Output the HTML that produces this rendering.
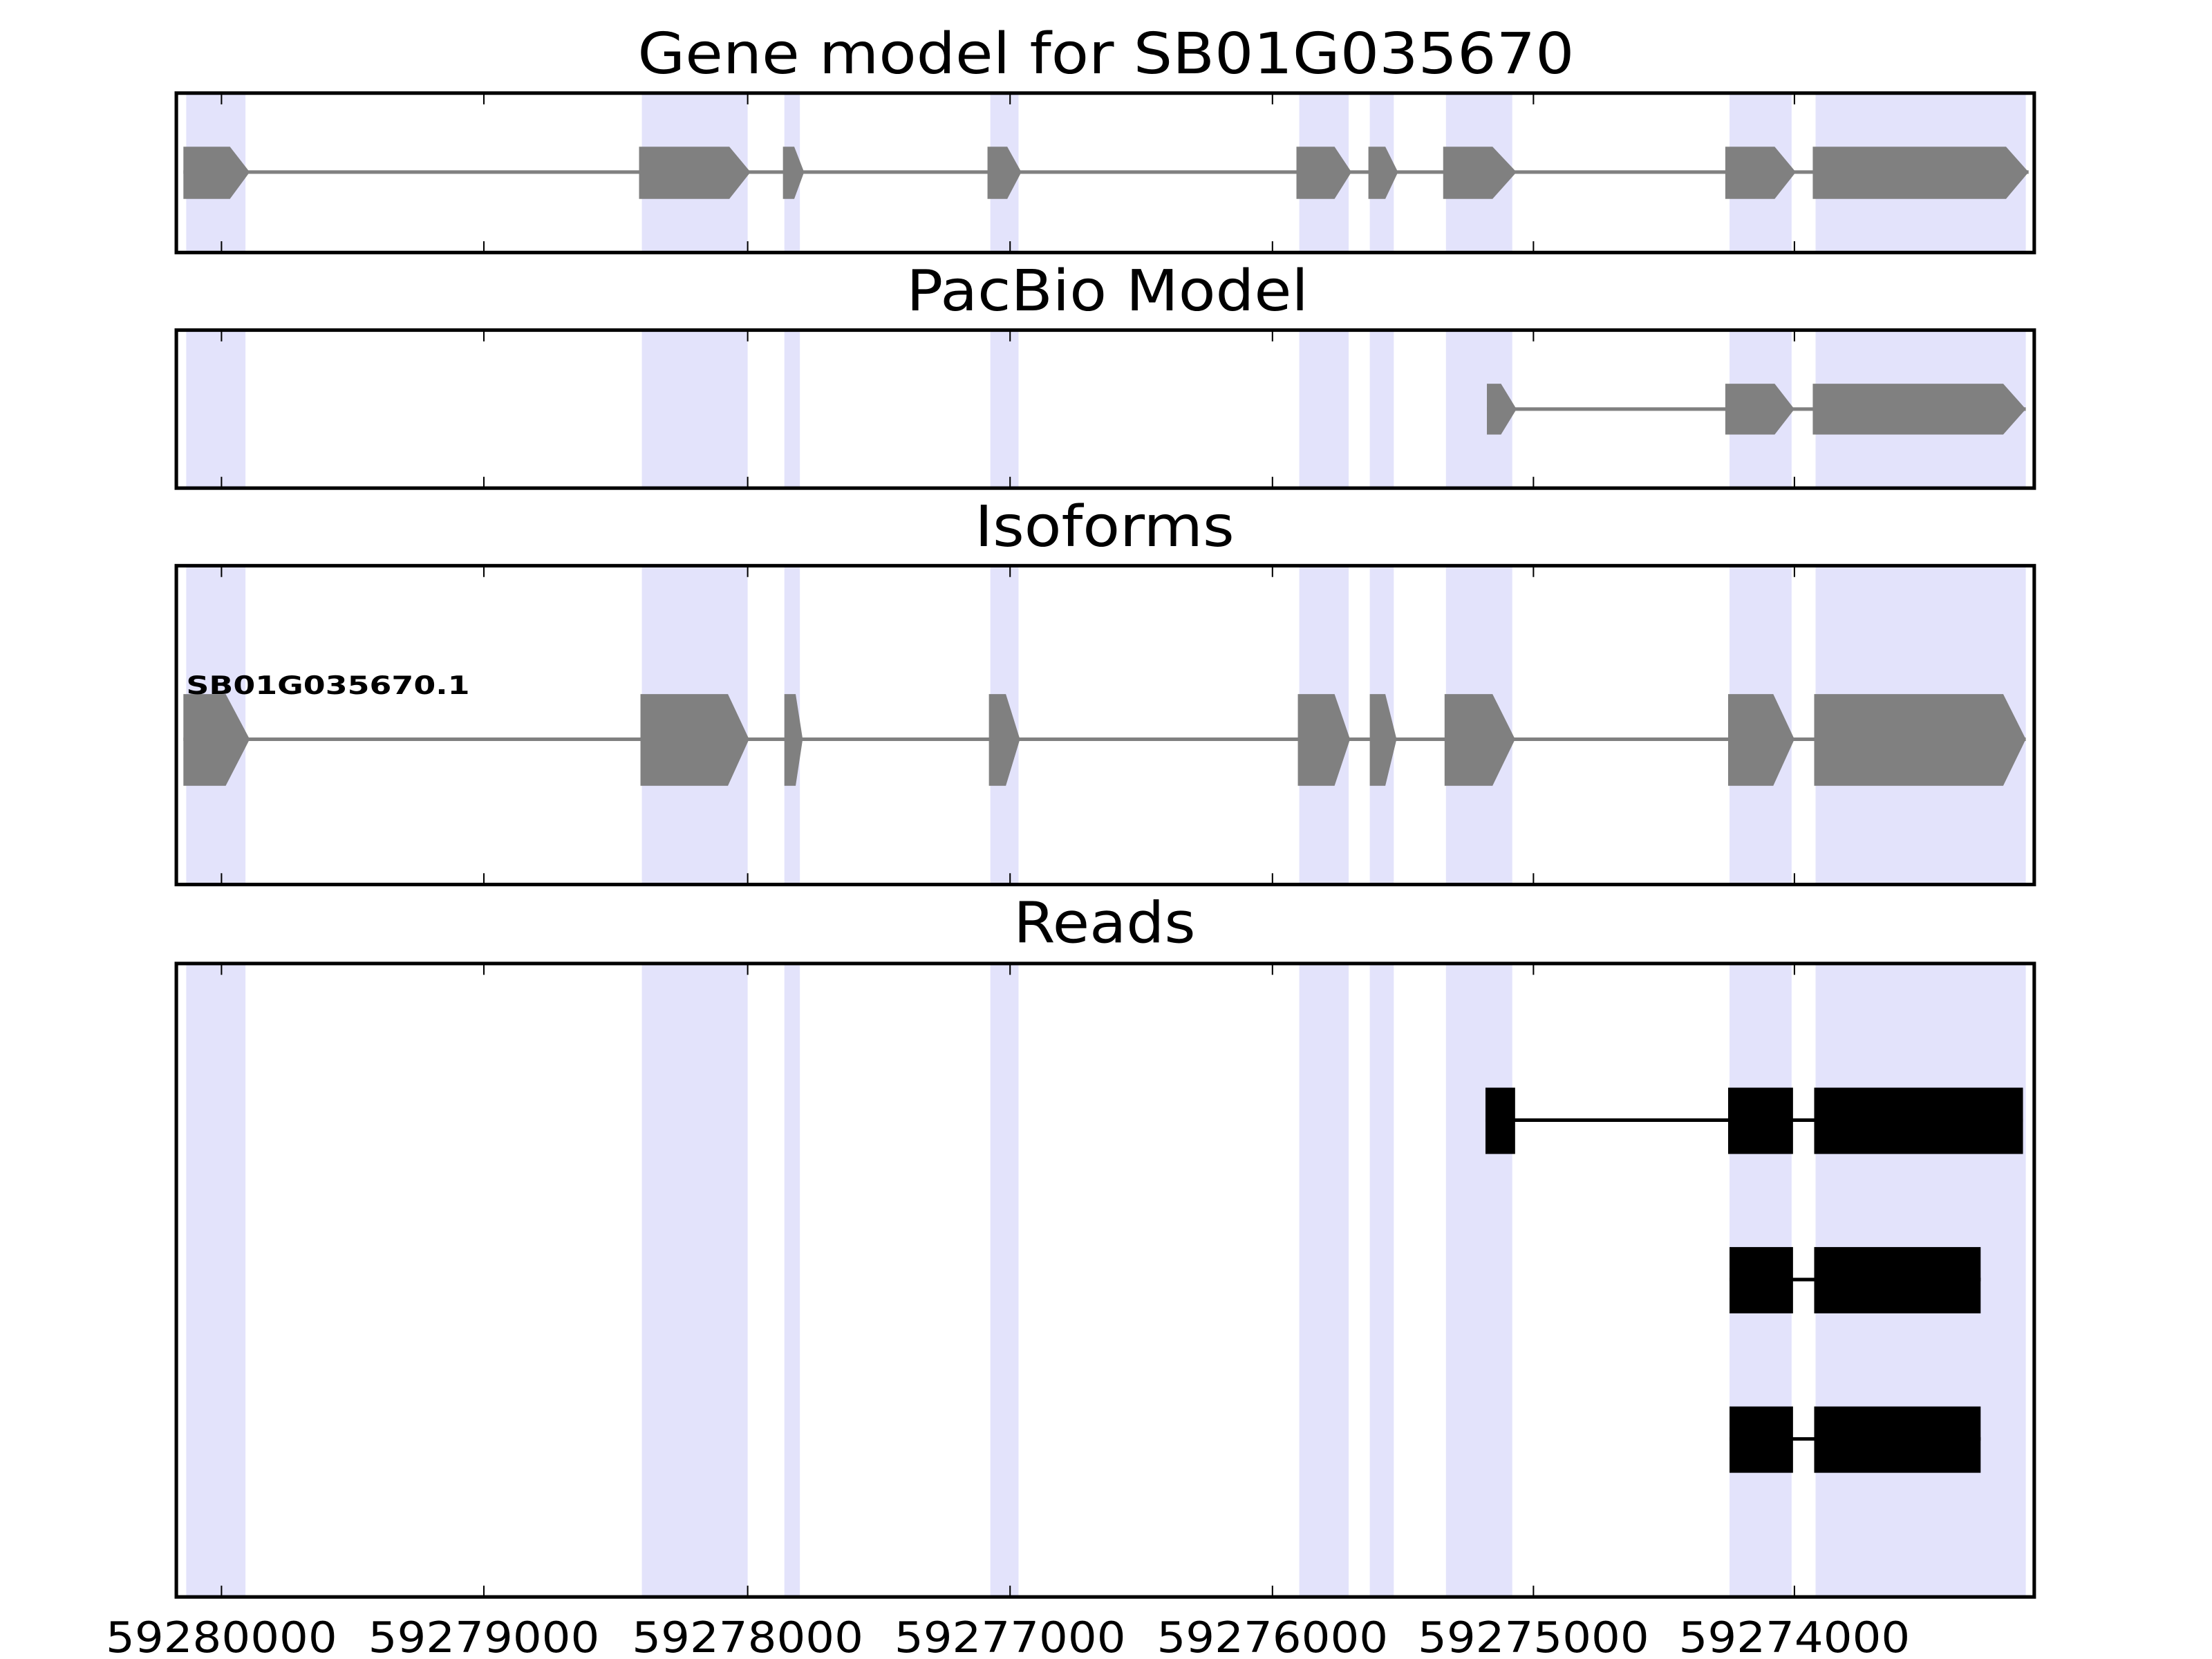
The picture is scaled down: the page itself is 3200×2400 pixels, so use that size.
<!DOCTYPE html>
<html><head><meta charset="utf-8"><style>html,body{margin:0;padding:0;background:#fff}svg{display:block}</style></head>
<body>
<svg xmlns="http://www.w3.org/2000/svg" width="3200" height="2400" viewBox="0 0 1568 1176">
<defs>
<g id="shade" fill="#e3e3fb">
<rect x="132" y="0" width="42" height="1"/>
<rect x="455" y="0" width="75" height="1"/>
<rect x="556" y="0" width="11" height="1"/>
<rect x="702" y="0" width="20" height="1"/>
<rect x="921" y="0" width="35" height="1"/>
<rect x="971" y="0" width="17" height="1"/>
<rect x="1025" y="0" width="47" height="1"/>
<rect x="1226" y="0" width="44" height="1"/>
<rect x="1287" y="0" width="149" height="1"/>
</g>
</defs>
<g font-family="'DejaVu Sans','Liberation Sans',sans-serif" fill="#000">
<text x="784" y="52" font-size="40" text-anchor="middle" textLength="664" lengthAdjust="spacingAndGlyphs">Gene model for SB01G035670</text>
<text x="785" y="220" font-size="40" text-anchor="middle" textLength="285" lengthAdjust="spacingAndGlyphs">PacBio Model</text>
<text x="783" y="387" font-size="40" text-anchor="middle" textLength="184" lengthAdjust="spacingAndGlyphs">Isoforms</text>
<text x="783" y="668" font-size="40" text-anchor="middle" textLength="129" lengthAdjust="spacingAndGlyphs">Reads</text>
</g>

<use href="#shade" transform="translate(0,66) scale(1,113)"/>
<use href="#shade" transform="translate(0,234) scale(1,112)"/>
<use href="#shade" transform="translate(0,401) scale(1,226)"/>
<use href="#shade" transform="translate(0,683) scale(1,449)"/>

<!-- Panel 1 -->
<g fill="#808080">
<line x1="130" y1="122" x2="1438" y2="122" stroke="#808080" stroke-width="2.5"/>
<polygon points="130,104 163,104 177,122 163,141 130,141"/>
<polygon points="453,104 517,104 532,122 517,141 453,141"/>
<polygon points="555,104 563,104 570,122 563,141 555,141"/>
<polygon points="700,104 714,104 724,122 714,141 700,141"/>
<polygon points="919,104 946,104 958,122 946,141 919,141"/>
<polygon points="970,104 982,104 991,122 982,141 970,141"/>
<polygon points="1023,104 1058,104 1075,122 1058,141 1023,141"/>
<polygon points="1223,104 1258,104 1273,122 1258,141 1223,141"/>
<polygon points="1285,104 1422,104 1438,122 1422,141 1285,141"/>
</g>

<!-- Panel 2 -->
<g fill="#808080">
<line x1="1054" y1="290" x2="1436" y2="290" stroke="#808080" stroke-width="2.5"/>
<polygon points="1054,272 1064,272 1075,290 1064,308 1054,308"/>
<polygon points="1223,272 1258,272 1272,290 1258,308 1223,308"/>
<polygon points="1285,272 1420,272 1436,290 1420,308 1285,308"/>
</g>

<!-- Panel 3 -->
<g fill="#808080">
<line x1="130" y1="524" x2="1436" y2="524" stroke="#808080" stroke-width="2.5"/>
<polygon points="130,492 160,492 177,524 160,557 130,557"/>
<polygon points="454,492 516,492 531,524 516,557 454,557"/>
<polygon points="556,492 564,492 569,524 564,557 556,557"/>
<polygon points="701,492 713,492 723,524 713,557 701,557"/>
<polygon points="920,492 946,492 957,524 946,557 920,557"/>
<polygon points="971,492 982,492 990,524 982,557 971,557"/>
<polygon points="1024,492 1058,492 1074,524 1058,557 1024,557"/>
<polygon points="1225,492 1257,492 1272,524 1257,557 1225,557"/>
<polygon points="1286,492 1420,492 1436,524 1420,557 1286,557"/>
</g>
<text x="132" y="492" font-family="'DejaVu Sans','Liberation Sans',sans-serif" font-weight="bold" font-size="18" textLength="201" lengthAdjust="spacingAndGlyphs">SB01G035670.1</text>

<!-- Panel 4 -->
<g fill="#000">
<line x1="1053" y1="794" x2="1434" y2="794" stroke="#000" stroke-width="2.5"/>
<rect x="1053" y="771" width="21" height="47"/>
<rect x="1225" y="771" width="46" height="47"/>
<rect x="1286" y="771" width="148" height="47"/>
<line x1="1226" y1="907" x2="1404" y2="907" stroke="#000" stroke-width="2.5"/>
<rect x="1226" y="884" width="45" height="47"/>
<rect x="1286" y="884" width="118" height="47"/>
<line x1="1226" y1="1020" x2="1404" y2="1020" stroke="#000" stroke-width="2.5"/>
<rect x="1226" y="997" width="45" height="47"/>
<rect x="1286" y="997" width="118" height="47"/>
</g>

<g fill="none" stroke="#000" stroke-width="2.5">
<rect x="125" y="66" width="1317" height="113"/>
<rect x="125" y="234" width="1317" height="112"/>
<rect x="125" y="401" width="1317" height="226"/>
<rect x="125" y="683" width="1317" height="449"/>
</g>
<g stroke="#000" stroke-width="1">
<path d="M157 66v8M343 66v8M530 66v8M716 66v8M902 66v8M1087 66v8M1272 66v8
M157 179v-8M343 179v-8M530 179v-8M716 179v-8M902 179v-8M1087 179v-8M1272 179v-8
M157 234v8M343 234v8M530 234v8M716 234v8M902 234v8M1087 234v8M1272 234v8
M157 346v-8M343 346v-8M530 346v-8M716 346v-8M902 346v-8M1087 346v-8M1272 346v-8
M157 401v8M343 401v8M530 401v8M716 401v8M902 401v8M1087 401v8M1272 401v8
M157 627v-8M343 627v-8M530 627v-8M716 627v-8M902 627v-8M1087 627v-8M1272 627v-8
M157 683v8M343 683v8M530 683v8M716 683v8M902 683v8M1087 683v8M1272 683v8
M157 1132v-8M343 1132v-8M530 1132v-8M716 1132v-8M902 1132v-8M1087 1132v-8M1272 1132v-8"/>
</g>
<g font-family="'DejaVu Sans','Liberation Sans',sans-serif" font-size="30" text-anchor="middle" fill="#000">
<text x="157" y="1171" textLength="164" lengthAdjust="spacingAndGlyphs">59280000</text>
<text x="343" y="1171" textLength="164" lengthAdjust="spacingAndGlyphs">59279000</text>
<text x="530" y="1171" textLength="164" lengthAdjust="spacingAndGlyphs">59278000</text>
<text x="716" y="1171" textLength="164" lengthAdjust="spacingAndGlyphs">59277000</text>
<text x="902" y="1171" textLength="164" lengthAdjust="spacingAndGlyphs">59276000</text>
<text x="1087" y="1171" textLength="164" lengthAdjust="spacingAndGlyphs">59275000</text>
<text x="1272" y="1171" textLength="164" lengthAdjust="spacingAndGlyphs">59274000</text>
</g>
</svg>
</body></html>
